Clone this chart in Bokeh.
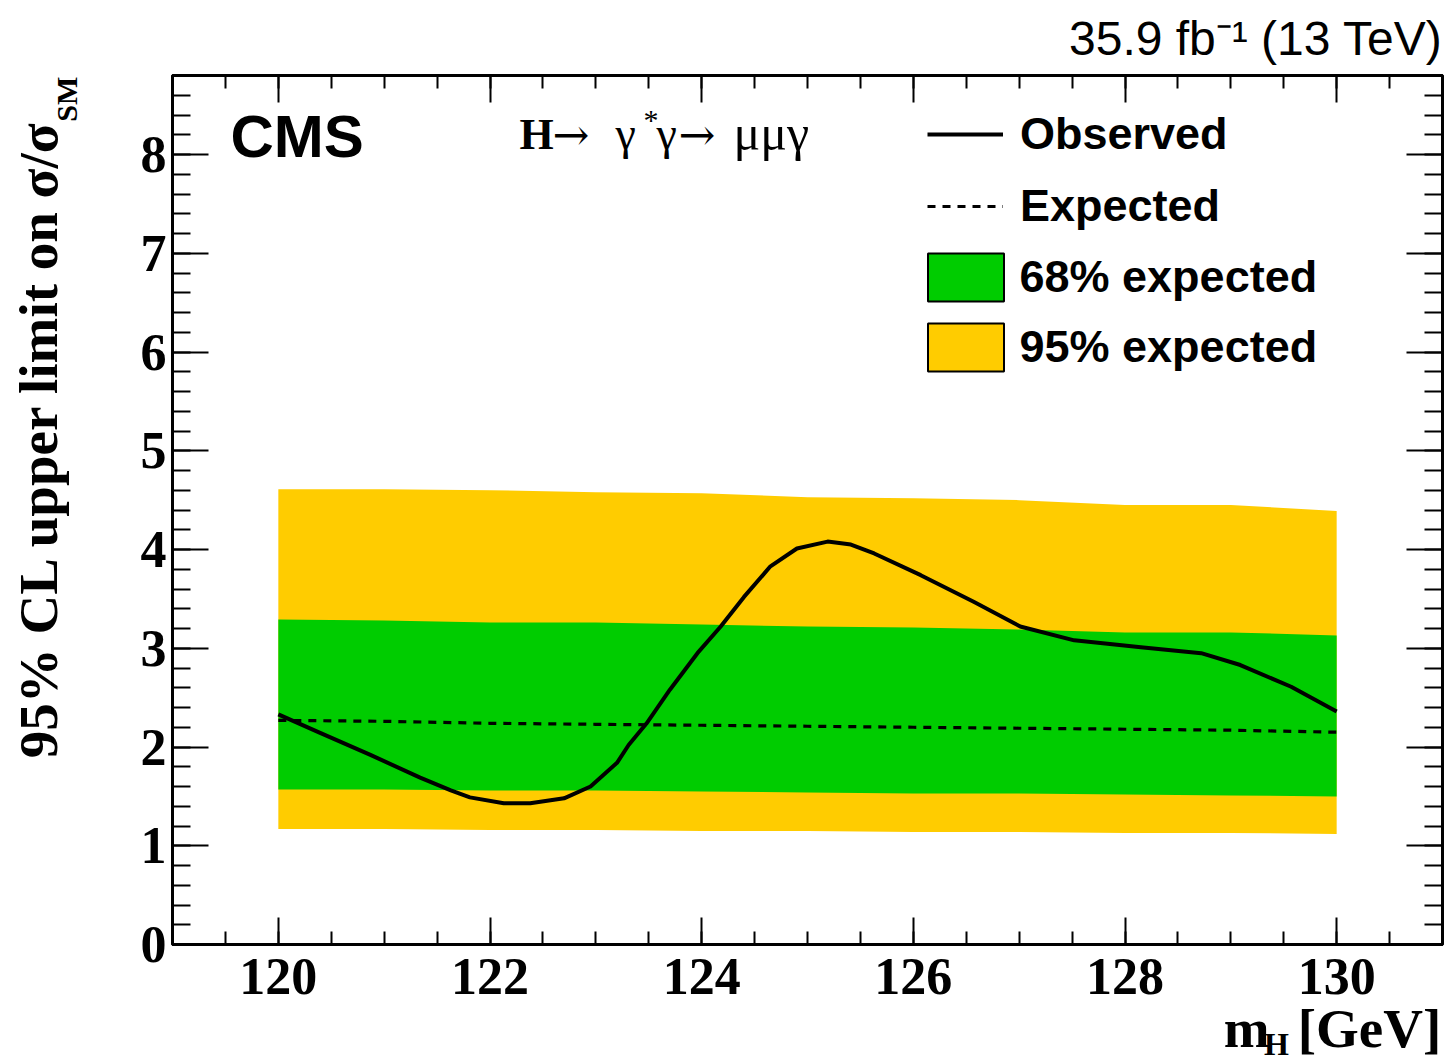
from bokeh.plotting import figure
from bokeh.models import Range1d, LinearAxis, FixedTicker, Label, Legend, LegendItem, Title
from bokeh.embed import file_html
from bokeh.resources import INLINE

# ---------------- data ----------------
mass = [120, 121, 122, 123, 124, 125, 126, 127, 128, 129, 130]
exp_median = [2.27, 2.26, 2.24, 2.23, 2.22, 2.21, 2.20, 2.19, 2.18, 2.17, 2.15]
band95_hi = [4.61, 4.61, 4.60, 4.58, 4.57, 4.53, 4.52, 4.50, 4.45, 4.45, 4.39]
band68_hi = [3.29, 3.28, 3.26, 3.26, 3.24, 3.22, 3.21, 3.19, 3.16, 3.16, 3.13]
band68_lo = [1.57, 1.57, 1.56, 1.56, 1.55, 1.54, 1.53, 1.53, 1.52, 1.51, 1.50]
band95_lo = [1.17, 1.17, 1.16, 1.16, 1.15, 1.15, 1.14, 1.14, 1.13, 1.13, 1.12]

obs_mass = [120.0, 120.4, 120.87, 121.34, 121.63, 121.81, 122.13, 122.38, 122.7, 122.95,
            123.2, 123.31, 123.48, 123.7, 123.96, 124.18, 124.4, 124.65, 124.9, 125.19,
            125.41, 125.63, 126.07, 126.57, 127.01, 127.52, 128.15, 128.72, 129.09,
            129.57, 130.0]
obs_limit = [2.33, 2.14, 1.92, 1.69, 1.56, 1.49, 1.43, 1.43, 1.48, 1.60,
             1.84, 2.02, 2.24, 2.58, 2.95, 3.22, 3.52, 3.83, 4.01, 4.08,
             4.05, 3.96, 3.74, 3.47, 3.22, 3.08, 3.01, 2.95, 2.83,
             2.61, 2.36]

x_major_ticks = [120, 122, 124, 126, 128, 130]
x_minor_ticks = [119.5 + 0.5 * i for i in range(23)]
y_major_ticks = [0, 1, 2, 3, 4, 5, 6, 7, 8]
y_minor_ticks = [round(0.2 * i, 1) for i in range(45)]

legend_labels = ["Observed", "Expected", "68% expected", "95% expected"]

GREEN = "#00cc00"
YELLOW = "#ffcc00"
NAN = float("nan")

X0, X1, Y0, Y1 = 119.0, 131.0, 0.0, 8.8
FL, FT, FW, FH = 172, 75, 1270, 869   # frame in picture pixels
FB = FT + FH
FR = FL + FW


def px_x(px):
    return X0 + (px - FL) / FW * (X1 - X0)


def px_y(py):
    return Y0 + (FB - py) / FH * (Y1 - Y0)


p = figure(frame_width=FW, frame_height=FH,
           min_border_left=FL, min_border_top=FT,
           min_border_right=10, min_border_bottom=114,
           x_range=Range1d(X0, X1), y_range=Range1d(Y0, Y1),
           output_backend="svg", toolbar_location=None, title=None)
p.xgrid.grid_line_color = None
p.ygrid.grid_line_color = None
p.outline_line_color = "black"
p.outline_line_width = 3
p.background_fill_color = "white"
p.border_fill_color = "white"

# bands and limits
p.varea(x=mass, y1=band95_lo, y2=band95_hi, fill_color=YELLOW)
p.varea(x=mass, y1=band68_lo, y2=band68_hi, fill_color=GREEN)
exp_r = p.line(mass, exp_median, line_color="black", line_width=3.2, line_dash="8 7")
obs_r = p.line(obs_mass, obs_limit, line_color="black", line_width=4, line_join="round")

# legend-only box renderers (nothing visible in the plot)
g_r = p.quad(left=[NAN], right=[NAN], top=[NAN], bottom=[NAN], fill_color=GREEN,
             line_color="black", line_width=2)
y_r = p.quad(left=[NAN], right=[NAN], top=[NAN], bottom=[NAN], fill_color=YELLOW,
             line_color="black", line_width=2)

common = dict(padding=0, margin=0, border_line_color=None, background_fill_alpha=0,
              label_text_font="Liberation Sans", label_text_font_style="bold",
              label_text_font_size="45px", label_text_color="black")
leg_lines = Legend(items=[LegendItem(label=legend_labels[0], renderers=[obs_r]),
                          LegendItem(label=legend_labels[1], renderers=[exp_r])],
                   location=(927 - FL, FB - 232), glyph_width=76, glyph_height=48,
                   label_height=48, label_standoff=17, spacing=20, **common)
leg_boxes = Legend(items=[LegendItem(label=legend_labels[2], renderers=[g_r]),
                          LegendItem(label=legend_labels[3], renderers=[y_r])],
                   location=(917.5 - FL, FB - 377), glyph_width=95, glyph_height=60,
                   label_height=48, label_standoff=7, spacing=10, **common)
p.add_layout(leg_lines)
p.add_layout(leg_boxes)


def style_axis(ax, ticks, minors, tick_in, minor_in, show_labels):
    ax.ticker = FixedTicker(ticks=ticks, minor_ticks=minors)
    ax.axis_line_width = 3
    ax.axis_line_color = "black"
    ax.major_tick_in = tick_in
    ax.major_tick_out = 0
    ax.minor_tick_in = minor_in
    ax.minor_tick_out = 0
    ax.major_tick_line_width = 2
    ax.minor_tick_line_width = 2
    ax.major_tick_line_color = "black"
    ax.minor_tick_line_color = "black"
    ax.axis_label = None
    if show_labels:
        ax.major_label_text_font = "Liberation Serif"
        ax.major_label_text_font_style = "bold"
        ax.major_label_text_font_size = "52px"
        ax.major_label_text_color = "black"
    else:
        ax.major_label_overrides = {t: "" for t in ticks}
        ax.major_label_text_font_size = "1px"
        ax.major_label_standoff = 0


style_axis(p.xaxis[0], x_major_ticks, x_minor_ticks, 27, 13, True)
p.xaxis[0].major_label_standoff = 14
style_axis(p.yaxis[0], y_major_ticks, y_minor_ticks, 36, 18, True)
p.yaxis[0].major_label_standoff = 6

top_ax = LinearAxis()
style_axis(top_ax, x_major_ticks, x_minor_ticks, 27, 13, False)
p.add_layout(top_ax, "above")
right_ax = LinearAxis()
style_axis(right_ax, y_major_ticks, y_minor_ticks, 36, 18, False)
p.add_layout(right_ax, "right")


# ---------- texts inside the frame ----------
def add_label(text, px, py, font, size, style="normal", align="left"):
    # py is the wanted baseline; bokeh places 'alphabetic' ~0.36 em lower
    p.add_layout(Label(x=px_x(px), y=px_y(py - 0.36 * size), text=text, text_font=font,
                       text_font_size=f"{size}px", text_font_style=style, text_align=align,
                       text_baseline="alphabetic", text_color="black"))


add_label("CMS", 230, 158, "Liberation Sans", 60, style="bold")
add_label("H", 519, 150, "Liberation Serif", 44, style="bold")
add_label("\u2192", 552, 150, "DejaVu Serif", 44)
add_label("\u03b3", 615, 150, "Liberation Serif", 46)
add_label("*", 643, 130, "Liberation Serif", 30)
add_label("\u03b3", 656, 150, "Liberation Serif", 46)
add_label("\u2192", 678, 150, "DejaVu Serif", 44)
add_label("\u03bc\u03bc\u03b3", 733, 150, "Liberation Serif", 50)


# ---------- texts outside the frame ----------
def text_axis(side, positions, texts, size_px, standoff, orientation="horizontal"):
    ax = LinearAxis(ticker=FixedTicker(ticks=positions, minor_ticks=[]),
                    major_label_overrides=dict(zip(positions, texts)),
                    axis_line_color=None, major_tick_line_color=None,
                    minor_tick_line_color=None, major_tick_in=0, major_tick_out=0,
                    minor_tick_in=0, minor_tick_out=0,
                    major_label_standoff=standoff, major_label_orientation=orientation,
                    major_label_text_font="Liberation Serif",
                    major_label_text_font_style="bold",
                    major_label_text_font_size=f"{size_px}px",
                    major_label_text_color="black")
    p.add_layout(ax, side)


def add_title(side, text, font, size_px, style, panel, offset, h_em=0.91):
    t = Title(text=text, text_font=font, text_font_size=f"{size_px}px",
              text_font_style=style, align="right", vertical_align="middle",
              standoff=panel - 2 - h_em * size_px, offset=offset, text_color="black")
    p.add_layout(t, side)


# above: luminosity / energy, right-aligned at the frame edge
add_title("above", "35.9 fb\u207b\u00b9 (13 TeV)", "Liberation Sans", 48, "normal",
          2 + 0.94 * 48 + 20, 0, h_em=0.94)

# left: "SM" subscript (as a tick label of a bare axis), then the title text
text_axis("left", [round(px_y(99), 2)], ["SM"], 30, 54, orientation="vertical")
sm_panel_left = (FL - 32) - (54 + 0.91 * 30)
add_title("left", "95% CL upper limit on  \u03c3/\u03c3", "Liberation Serif", 55, "bold",
          2 * (sm_panel_left - 54.5), 30)

# below: "m" and "[GeV]", then subscript "H"
text_axis("below", [round(px_x(1246), 2), round(px_x(1369), 2)], ["m", "[GeV]"], 55, 1)
text_axis("below", [round(px_x(1276), 2)], ["H"], 32, -36)

open("out.html", "w").write(file_html(p, INLINE))
